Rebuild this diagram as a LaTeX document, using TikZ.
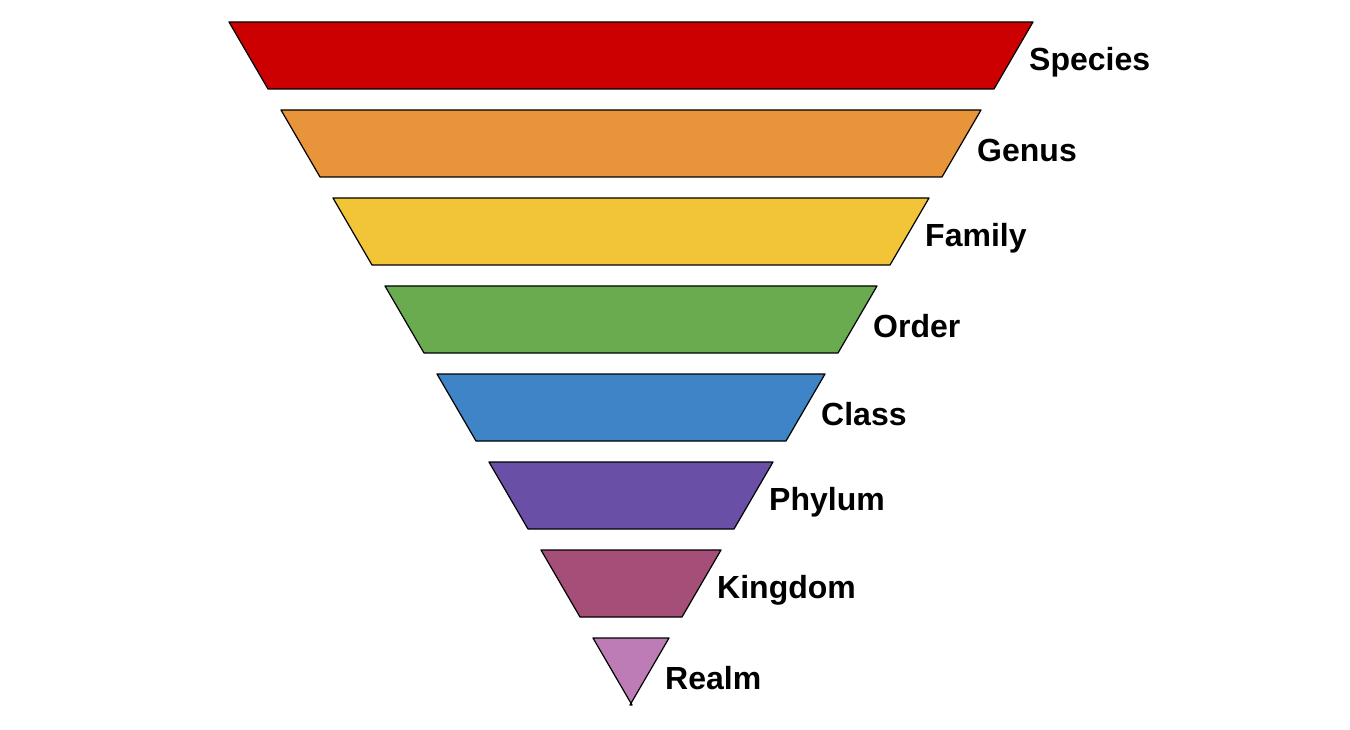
\documentclass[tikz,border=0pt]{standalone}
\usepackage{fontspec}
\setmainfont{Liberation Sans}
\usepackage{tikz}
\usetikzlibrary{positioning}
\definecolor{cSpecies}{HTML}{CC0000}
\definecolor{cGenus}{HTML}{E8943A}
\definecolor{cFamily}{HTML}{F2C438}
\definecolor{cOrder}{HTML}{6AAB50}
\definecolor{cClass}{HTML}{3E84C6}
\definecolor{cPhylum}{HTML}{6A4FA6}
\definecolor{cKingdom}{HTML}{A54F78}
\definecolor{cRealm}{HTML}{BD7CB5}
\tikzset{
  layer/.style={draw=black, line width=1.2pt, line join=round},
  rank/.style={font=\bfseries\fontsize{32}{36}\selectfont, anchor=west, inner sep=0pt}
}
\begin{document}
\begin{tikzpicture}[x=1pt, y=-1pt]
    \useasboundingbox (0,0) rectangle (1350,730);
    % Layers of the inverted pyramid
    \foreach \name [count=\i] in {Species, Genus, Family, Order, Class, Phylum, Kingdom, Realm}{
        \pgfmathsetmacro\top{22+(\i-1)*88}
        \pgfmathsetmacro\bot{\top+67}
        \pgfmathsetmacro\hw{402-(\i-1)*52}
        \pgfmathsetmacro\bw{\hw-39}
        \coordinate (tl\i) at (631-\hw, \top);
        \coordinate (tr\i) at (631+\hw, \top);
        \coordinate (br\i) at (631+\bw, \bot);
        \coordinate (bl\i) at (631-\bw, \bot);
        \draw[layer, fill=c\name] (tl\i) -- (tr\i) -- (br\i) -- (bl\i) -- cycle;
        % Rank label
        \node[rank] (label\i) at ([xshift=35pt, yshift=27pt] br\i) {\name};
    }
\end{tikzpicture}
\end{document}
